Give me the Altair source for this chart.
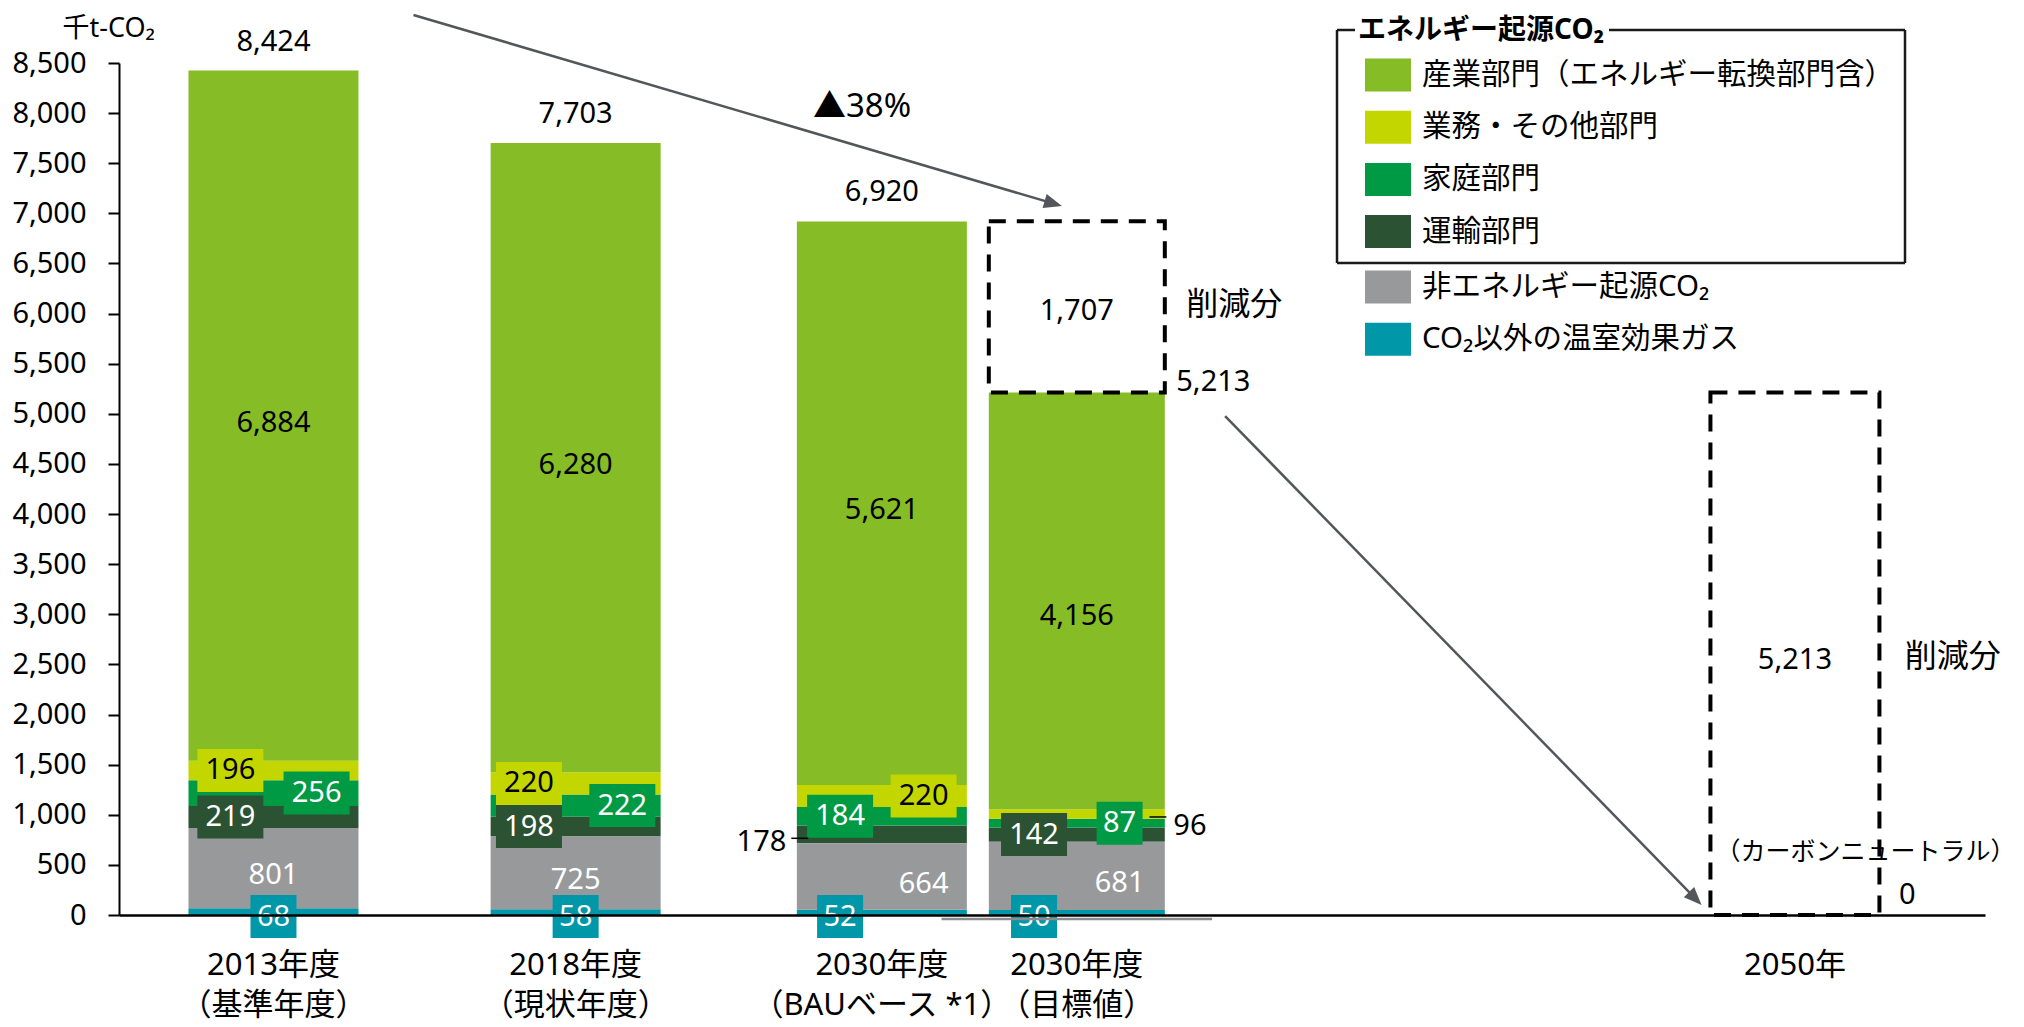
import math
import altair as alt
import pandas as pd

# ---------------- data ----------------
CATEGORIES = ["2013年度（基準年度）", "2018年度（現状年度）", "2030年度（BAUベース）", "2030年度（目標値）"]
X_LABEL_1 = ["2013年度", "2018年度", "2030年度", "2030年度", "2050年"]
X_LABEL_2 = ["（基準年度）", "（現状年度）", "（BAUベース *1）", "（目標値）", ""]

SERIES = ["産業部門（エネルギー転換部門含）", "業務・その他部門", "家庭部門", "運輸部門",
          "非エネルギー起源CO₂", "CO₂以外の温室効果ガス"]
INDUSTRY = [6884, 6280, 5621, 4156]
BUSINESS = [196, 220, 220, 96]
HOUSEHOLD = [256, 222, 184, 87]
TRANSPORT = [219, 198, 178, 142]
NON_ENERGY = [801, 725, 664, 681]
OTHER_GHG = [68, 58, 52, 50]
TOTALS = [8424, 7703, 6920, 5213]
REDUCTION_2030 = 1707
TARGET_2050 = 0
REDUCTION_2050 = 5213
REDUCTION_PCT = "▲38%"
Y_TICKS = list(range(0, 8501, 500))
LEGEND_GROUP_TITLE = "エネルギー起源CO₂"
REDUCTION_TEXT = "削減分"
NEUTRAL_TEXT = "（カーボンニュートラル）"

# ---------------- layout / style ----------------
FONT = "Noto Sans, Noto Sans CJK JP"
FS = 29
FS_CJK = 31
BLACK = "#000000"
COLORS = ["#86BC25", "#C4D600", "#009A44", "#2C5234", "#97999B", "#0097A9"]
ARROW_C = "#53565A"
PLOT_W, PLOT_H = 1866, 852
UNIT = 170.0                      # px per x unit
PXV = PLOT_H / 8500.0             # px per y value
SLOT = [0.884, 2.671, 4.482, 5.635, 9.882]
BAR_W = [170, 170, 170, 176]
BOX_2050_W = 169
LBL_D = [0.255, 0.276, 0.247, 0.253]
BOX_H = 43


def at(xu, yv, dx=0.0, dy=0.0):
    return xu + dx / UNIT, yv - dy / PXV


VALUES = [INDUSTRY, BUSINESS, HOUSEHOLD, TRANSPORT, NON_ENERGY, OTHER_GHG]
STACK = [5, 4, 3, 2, 1, 0]  # bottom -> top

seg_rows = []
mids = {}
for i, cat in enumerate(CATEGORIES):
    base = 0
    for s in STACK:
        v = VALUES[s][i]
        seg_rows.append(dict(cat=cat, x=SLOT[i], w=BAR_W[i], series=SERIES[s],
                             y0=base, y1=base + v))
        mids[(i, s)] = base + v / 2
        base += v
seg = pd.DataFrame(seg_rows)

# label placement per (bar, series): kind, side
PLACE = {
    (0, 0): ("plain", 0), (0, 1): ("box", -1), (0, 2): ("box", 1), (0, 3): ("box", -1), (0, 4): ("plain", 0), (0, 5): ("zero", 0),
    (1, 0): ("plain", 0), (1, 1): ("box", -1), (1, 2): ("box", 1), (1, 3): ("box", -1), (1, 4): ("plain", 0), (1, 5): ("zero", 0),
    (2, 0): ("plain", 0), (2, 1): ("box", 1), (2, 2): ("box", -1), (2, 3): ("out_left", 0), (2, 4): ("plain", 1), (2, 5): ("zero", -1),
    (3, 0): ("plain", 0), (3, 1): ("out_right", 0), (3, 2): ("box", 1), (3, 3): ("box", -1), (3, 4): ("plain", 1), (3, 5): ("zero", -1),
}
PLAIN_DY = {(3, 0): 15}

box_rows, plain_rows, left_rows, right_rows, lead_rows = [], [], [], [], []
for (i, s), (kind, side) in PLACE.items():
    v = VALUES[s][i]
    txt = f"{v:,}"
    xc = SLOT[i] + side * LBL_D[i]
    tcol = BLACK if s in (0, 1) else "#FFFFFF"
    if kind in ("box", "zero"):
        yc = mids[(i, s)] if kind == "box" else at(0, 0, dy=1.5)[1]
        half = BOX_H / 2 / PXV
        box_rows.append(dict(x=xc, yc=yc, ylo=yc - half, yhi=yc + half,
                             w=46 if len(txt) <= 2 else 66, fill=COLORS[s], t=txt, tc=tcol))
    elif kind == "plain":
        x, y = at(xc, mids[(i, s)], dy=PLAIN_DY.get((i, s), 7))
        plain_rows.append(dict(x=x, y=y, t=txt, tc=tcol))
    elif kind == "out_left":
        edge = SLOT[i] - BAR_W[i] / 2 / UNIT
        x, y = at(edge, mids[(i, s)], dx=-11, dy=8)
        right_rows.append(dict(x=x, y=y, t=txt))
        lx1, ly = at(edge, mids[(i, s)], dx=-6, dy=4)
        lx2, _ = at(edge, mids[(i, s)], dx=11)
        lead_rows.append(dict(x=lx1, x2=lx2, y=ly, y2=ly, c=BLACK, sw=1.5))
    elif kind == "out_right":
        edge = SLOT[i] + BAR_W[i] / 2 / UNIT
        x, y = at(edge, mids[(i, s)], dx=9, dy=12)
        left_rows.append(dict(x=x, y=y, t=txt))
        lx1, ly = at(edge, mids[(i, s)], dx=-15, dy=3)
        lx2, _ = at(edge, mids[(i, s)], dx=2)
        lead_rows.append(dict(x=lx1, x2=lx2, y=ly, y2=ly, c=BLACK, sw=1.5))

center_rows = []
for i in range(3):
    x, y = at(SLOT[i], TOTALS[i], dy=-29)
    center_rows.append(dict(x=x, y=y, t=f"{TOTALS[i]:,}"))
x, y = at(SLOT[3], TOTALS[3] + REDUCTION_2030 / 2, dy=4)
center_rows.append(dict(x=x, y=y, t=f"{REDUCTION_2030:,}"))
x, y = at(SLOT[4], TARGET_2050 + REDUCTION_2050 / 2, dy=6)
center_rows.append(dict(x=x, y=y, t=f"{REDUCTION_2050:,}"))

big_rows = []
x, y = at(4.365, 8061)
big_rows.append(dict(x=x, y=y, t=REDUCTION_PCT))
xl_rows = []
for i in range(5):
    x, y = at(SLOT[i], 0, dy=51)
    xl_rows.append(dict(x=x, y=y, t=X_LABEL_1[i]))
    x, y = at(SLOT[i], 0, dy=91)
    xl_rows.append(dict(x=x, y=y, t=X_LABEL_2[i]))
small_rows = []
x, y = at(SLOT[4], 0, dx=71, dy=-63)
small_rows.append(dict(x=x, y=y, t=NEUTRAL_TEXT))

x, y = at(SLOT[3] + BAR_W[3] / 2 / UNIT, TOTALS[3], dx=12, dy=-10)
left_rows.append(dict(x=x, y=y, t=f"{TOTALS[3]:,}"))
x, y = at(SLOT[4] + BOX_2050_W / 2 / UNIT, TARGET_2050, dx=20, dy=-20)
left_rows.append(dict(x=x, y=y, t=f"{TARGET_2050}"))
red_rows = []
x, y = at(SLOT[3] + BAR_W[3] / 2 / UNIT, TOTALS[3] + REDUCTION_2030 / 2, dx=22, dy=-2)
red_rows.append(dict(x=x, y=y, t=REDUCTION_TEXT))
x, y = at(SLOT[4] + BOX_2050_W / 2 / UNIT, REDUCTION_2050 / 2, dx=26, dy=3)
red_rows.append(dict(x=x, y=y, t=REDUCTION_TEXT))

# gray base line under target bar
gx1, gy = at(SLOT[3], 0, dx=-136, dy=4)
gx2, _ = at(SLOT[3], 0, dx=136)
lead_rows.append(dict(x=gx1, x2=gx2, y=gy, y2=gy, c="#8C8C8C", sw=2.5))

# arrows
ARROWS = [((1.712, 8979), (5.547, 7073)), ((6.512, 4978), (9.33, 100))]
arrow_rows, head_rows = [], []
for (x1, y1), (x2, y2) in ARROWS:
    sdx = (x2 - x1) * UNIT
    sdy = -(y2 - y1) * PXV
    L = math.hypot(sdx, sdy)
    ang = math.degrees(math.atan2(sdx, -sdy))
    ex = x2 - (sdx / L) * 12 / UNIT
    ey = y2 + (sdy / L) * 12 / PXV
    arrow_rows.append(dict(x=x1, y=y1, x2=ex, y2=ey, c=ARROW_C, sw=2.5))
    head_rows.append(dict(x=x2, y=y2, a=ang))

dash = pd.DataFrame([
    dict(x=SLOT[3], w=BAR_W[3], lo=TOTALS[3], hi=TOTALS[3] + REDUCTION_2030),
    dict(x=SLOT[4], w=BOX_2050_W, lo=TARGET_2050, hi=TARGET_2050 + REDUCTION_2050),
])

# ---------------- scales / axes ----------------
xscale = alt.Scale(domain=[0, PLOT_W / UNIT], nice=False, zero=False)
yscale = alt.Scale(domain=[0, 8500], nice=False, zero=True)
xaxis = alt.Axis(labels=False, ticks=False, domain=True, domainColor=BLACK, domainWidth=2.5,
                 grid=False, title=None, zindex=1)
yaxis = alt.Axis(values=Y_TICKS, format=",.0f", labelFont=FONT, labelFontSize=FS, labelColor=BLACK,
                 labelPadding=22, tickSize=11, tickWidth=2, tickColor=BLACK, domainColor=BLACK,
                 domainWidth=2, grid=False, title="千t-CO₂", titleFont=FONT, titleFontSize=27,
                 titleFontWeight="normal", titleColor=BLACK, titleAngle=0, titleAlign="left",
                 titleBaseline="middle", titleX=-57, titleY=-35)

RECT_SYM = "M-1,-0.717H1V0.717H-1Z"


def legend(y):
    return alt.Legend(orient="none", legendX=1246, legendY=y, title=None, symbolType=RECT_SYM,
                      symbolSize=2116, symbolStrokeWidth=0, symbolOpacity=1, labelFont=FONT,
                      labelFontSize=29.5, labelColor=BLACK, labelOffset=11, labelLimit=800,
                      rowPadding=12.2, padding=0, direction="vertical")


energy = alt.Chart(seg[seg.series.isin(SERIES[:4])]).mark_bar().encode(
    x=alt.X("x:Q", scale=xscale, axis=xaxis),
    y=alt.Y("y0:Q", scale=yscale, axis=yaxis),
    y2="y1:Q",
    size=alt.Size("w:Q", scale=None),
    color=alt.Color("series:N", scale=alt.Scale(domain=SERIES[:4], range=COLORS[:4]),
                    legend=legend(-11)),
)
other = alt.Chart(seg[seg.series.isin(SERIES[4:])]).mark_bar().encode(
    x="x:Q", y="y0:Q", y2="y1:Q",
    size=alt.Size("w:Q", scale=None),
    fill=alt.Fill("series:N", scale=alt.Scale(domain=SERIES[4:], range=COLORS[4:]),
                  legend=legend(201)),
)

dashed = alt.Chart(dash).mark_bar(fillOpacity=0, stroke=BLACK, strokeWidth=4,
                                  strokeDash=[17, 11]).encode(
    x="x:Q", y="lo:Q", y2="hi:Q", size=alt.Size("w:Q", scale=None))

boxes = alt.Chart(pd.DataFrame(box_rows)).mark_bar().encode(
    x="x:Q", y="ylo:Q", y2="yhi:Q", size=alt.Size("w:Q", scale=None),
    color=alt.Color("fill:N", scale=None))
box_txt = alt.Chart(pd.DataFrame(box_rows)).mark_text(font=FONT, fontSize=FS, baseline="middle",
                                                       align="center").encode(
    x="x:Q", y="yc:Q", text="t:N", color=alt.Color("tc:N", scale=None))
plain_txt = alt.Chart(pd.DataFrame(plain_rows)).mark_text(font=FONT, fontSize=FS, baseline="middle",
                                                           align="center").encode(
    x="x:Q", y="y:Q", text="t:N", color=alt.Color("tc:N", scale=None))


def txt_layer(rows, align="center", size=FS):
    return alt.Chart(pd.DataFrame(rows)).mark_text(font=FONT, fontSize=size, baseline="middle",
                                                   align=align, color=BLACK).encode(
        x="x:Q", y="y:Q", text="t:N")


ctr_txt = txt_layer(center_rows)
big_txt = txt_layer(big_rows, size=33)
xl_txt = txt_layer(xl_rows, size=FS_CJK)
small_txt = txt_layer(small_rows, size=25)
red_txt = txt_layer(red_rows, align="left", size=32)
lft_txt = txt_layer(left_rows, align="left")
rgt_txt = txt_layer(right_rows, align="right")

leads = alt.Chart(pd.DataFrame(lead_rows + arrow_rows)).mark_rule().encode(
    x="x:Q", x2="x2:Q", y="y:Q", y2="y2:Q",
    color=alt.Color("c:N", scale=None), strokeWidth=alt.StrokeWidth("sw:Q", scale=None))
heads = alt.Chart(pd.DataFrame(head_rows)).mark_point(
    shape="M0,0L0.8,2L-0.8,2Z", size=324, filled=True, fill=ARROW_C, opacity=1, strokeWidth=0
).encode(x="x:Q", y="y:Q", angle=alt.Angle("a:Q", scale=None))

# legend group frame (pixel space, relative to plot origin)
frame = pd.DataFrame([
    dict(px=1218, px2=1236, py=-33, py2=-33),
    dict(px=1490, px2=1786, py=-33, py2=-33),
    dict(px=1218, px2=1218, py=-33, py2=200),
    dict(px=1786, px2=1786, py=-33, py2=200),
    dict(px=1218, px2=1786, py=200, py2=200),
])
frame_rules = alt.Chart(frame).mark_rule(color="#1A1A1A", strokeWidth=2.5).encode(
    x=alt.X("px:Q", scale=None), x2="px2:Q", y=alt.Y("py:Q", scale=None), y2="py2:Q")
frame_title = alt.Chart(pd.DataFrame([dict(px=1239, py=-32, t=LEGEND_GROUP_TITLE)])).mark_text(
    font=FONT, fontSize=28, fontWeight="bold", align="left", baseline="middle", color=BLACK
).encode(x=alt.X("px:Q", scale=None), y=alt.Y("py:Q", scale=None), text="t:N")

chart = alt.layer(
    energy, other, dashed, boxes, box_txt, plain_txt, ctr_txt, big_txt, xl_txt, small_txt,
    red_txt, lft_txt, rgt_txt, leads, heads, frame_rules, frame_title
).properties(
    width=PLOT_W, height=PLOT_H,
    autosize=alt.AutoSizeParams(type="none"),
    padding={"left": 111, "top": 55, "right": 30, "bottom": 110},
    background="white",
).configure_view(stroke=None)

chart.save("out.html", embed_options={"renderer": "svg", "actions": False})
